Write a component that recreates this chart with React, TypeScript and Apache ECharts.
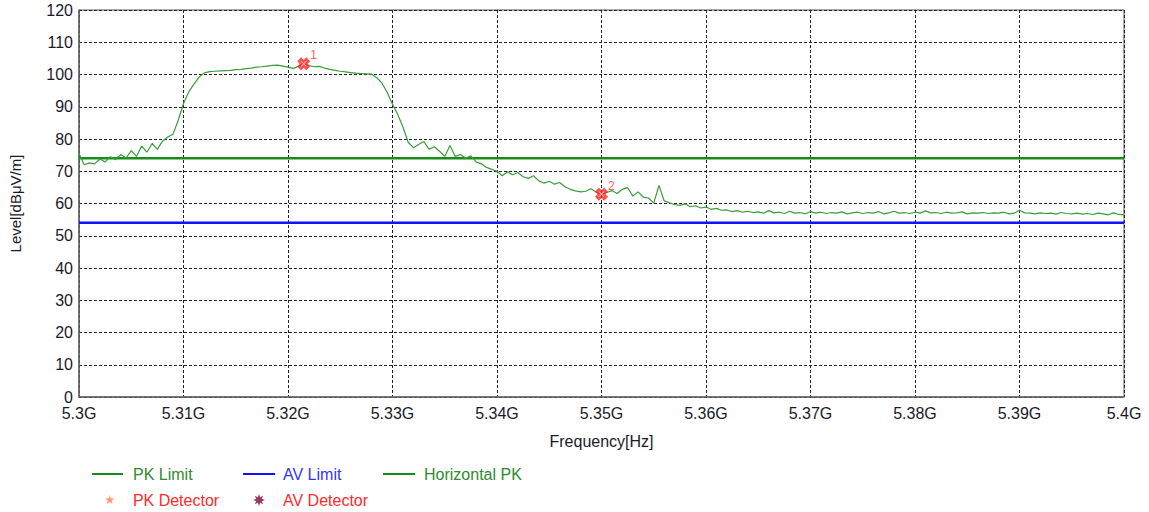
import { useEffect, useRef } from "react";
import * as echarts from "echarts";

// Sweep: 5300 MHz .. 5400 MHz, one reading every 0.5 MHz
const START_MHZ = 5300;
const STEP_MHZ = 0.5;

const traceLevels = [
  75.5, 72.0, 72.6, 72.3, 73.8, 72.9, 74.5, 73.6, 75.2, 74.1,
  76.4, 74.6, 77.8, 75.9, 78.6, 76.8, 79.4, 80.6, 81.5, 85.8,
  91.0, 94.6, 97.0, 99.2, 100.5, 100.9, 101.0, 101.1, 101.2, 101.3,
  101.5, 101.6, 101.8, 102.0, 102.3, 102.4, 102.6, 102.8, 102.9, 102.6,
  102.3, 101.9, 102.5, 103.3, 102.8, 102.4, 102.5, 102.0, 101.6, 101.3,
  101.0, 100.8, 100.6, 100.4, 100.3, 100.2, 100.1, 99.0, 97.3, 94.4,
  90.8, 87.6, 83.7, 79.0, 77.3, 78.3, 79.2, 76.8, 77.6, 76.2,
  74.6, 78.0, 74.6, 75.2, 74.0, 74.8, 72.9, 72.3, 71.2, 70.6,
  70.0, 68.6, 69.8, 68.9, 69.6, 68.3, 67.8, 68.6, 67.0, 66.3,
  66.9, 66.0, 66.5, 65.2, 64.4, 63.9, 63.6, 63.8, 64.6, 63.5,
  62.9, 63.4, 64.0, 63.1, 64.4, 64.9, 62.3, 63.6, 62.0, 61.7,
  60.1, 65.6, 60.8, 60.2, 59.7, 59.4, 59.9, 59.0, 59.3, 58.6,
  58.9, 58.2, 58.5, 57.9, 58.0, 57.5, 57.8, 57.3, 57.6, 57.2,
  57.4, 57.0, 57.8, 57.1, 57.3, 56.9, 57.6, 57.0, 57.2, 56.8,
  57.5, 57.0, 57.3, 56.9, 57.2, 57.0, 57.4, 56.8, 57.1, 57.3,
  56.9, 57.2, 57.0, 57.5, 56.8, 57.1, 57.6, 57.0, 57.2, 56.9,
  57.3, 57.0, 57.7, 57.1, 57.2, 56.9, 57.3, 57.0, 57.1, 57.4,
  56.8, 57.1, 57.0, 57.2, 56.9, 57.1, 57.0, 57.3, 56.8, 57.0,
  57.9, 57.1, 57.0, 56.8, 57.1, 56.9, 57.0, 56.7, 57.2, 56.9,
  56.8, 57.0, 56.7, 56.9, 56.6, 57.0, 56.8, 56.5, 57.1, 56.6,
  56.5,
];

const xTickLabels = [
  "5.3G", "5.31G", "5.32G", "5.33G", "5.34G", "5.35G",
  "5.36G", "5.37G", "5.38G", "5.39G", "5.4G",
];

const pkLimitLevel = 74;
const avLimitLevel = 54;

const markerNames = ["1", "2"];
const markerFreqs = [5321.5, 5350.0];
const markerLevels = [103.3, 62.9];

const FONT = 'Arial, "Liberation Sans", sans-serif';
const FS = 16;

const STAR_ICON =
  "path://M5,0L6.18,3.38L9.76,3.45L6.9,5.62L7.94,9.05L5,7L2.06,9.05L3.1,5.62L0.24,3.45L3.82,3.38ZM22.95,0L23,0L23,10L22.95,10Z";
const BURST_ICON =
  "path://M12,6L8.77,7.15L10.24,10.24L7.15,8.77L6,12L4.85,8.77L1.76,10.24L3.23,7.15L0,6L3.23,4.85L1.76,1.76L4.85,3.23L6,0L7.15,3.23L10.24,1.76L8.77,4.85ZM24.95,0L25,0L25,12L24.95,12Z";
const lineIcon = (len: number, total: number) =>
  `path://M0,0H${len}V2H0ZM${total - 0.05},0H${total}V2H${total - 0.05}Z`;

const X_MARK = "path://M0,3L3,0L5,2L7,0L10,3L8,5L10,7L7,10L5,8L3,10L0,7L2,5Z";
const X_INNER = "path://M1,0L5,4L9,0L10,1L6,5L10,9L9,10L5,6L1,10L0,9L4,5L0,1Z";

function legendEntry(
  name: string,
  left: number,
  top: number,
  icon: string,
  w: number,
  h: number,
  textColor: string
) {
  return {
    left,
    top,
    orient: "horizontal",
    padding: 0,
    itemWidth: w,
    itemHeight: h,
    selectedMode: false,
    textStyle: { color: textColor, fontSize: FS, fontFamily: FONT },
    data: [{ name, icon, itemStyle: { borderWidth: 0 } }],
  };
}

export default function App() {
  const ref = useRef<HTMLDivElement>(null);

  useEffect(() => {
    if (!ref.current) return;
    const chart = echarts.init(ref.current, undefined, { renderer: "svg" });

    const trace = traceLevels.map((v, i) => [START_MHZ + i * STEP_MHZ, v]);
    const markers = markerFreqs.map((f, i) => ({
      name: markerNames[i],
      value: [f, markerLevels[i]],
    }));

    chart.setOption({
      animation: false,
      backgroundColor: "#ffffff",
      textStyle: { fontFamily: FONT },
      grid: {
        left: 78,
        right: 25,
        top: 10,
        bottom: 115,
        show: true,
        borderColor: "#555",
        borderWidth: 1,
      },
      xAxis: {
        type: "value",
        min: 5300,
        max: 5400,
        interval: 10,
        name: "Frequency[Hz]",
        nameLocation: "middle",
        nameGap: 36,
        nameTextStyle: { color: "#1a1a2a", fontSize: FS, fontFamily: FONT },
        axisLine: { show: true, lineStyle: { color: "#666", width: 1.5 } },
        axisTick: { show: false },
        axisLabel: {
          color: "#1a1a2a",
          fontSize: FS,
          margin: 8,
          fontFamily: FONT,
          formatter: (v: number) => xTickLabels[Math.round((v - 5300) / 10)],
        },
        splitLine: { show: true, lineStyle: { color: "#222", type: [3, 2], width: 1 } },
      },
      yAxis: {
        type: "value",
        min: 0,
        max: 120,
        interval: 10,
        name: "Level[dBμV/m]",
        nameLocation: "middle",
        nameGap: 56,
        nameRotate: 90,
        nameTextStyle: { color: "#1a1a2a", fontSize: 15, fontFamily: FONT },
        axisLine: { show: true, lineStyle: { color: "#666", width: 1.5 } },
        axisTick: { show: false },
        axisLabel: { color: "#1a1a2a", fontSize: FS, margin: 6, fontFamily: FONT },
        splitLine: { show: true, lineStyle: { color: "#222", type: [3, 2], width: 1 } },
      },
      legend: [
        legendEntry("PK Limit", 92, 466, lineIcon(31, 36), 36, 2, "#2e8b2e"),
        legendEntry("AV Limit", 243, 466, lineIcon(32, 35), 35, 2, "#3333ff"),
        legendEntry("Horizontal PK", 383, 466, lineIcon(32, 36), 36, 2, "#2e8b2e"),
        legendEntry("PK Detector", 105, 492, STAR_ICON, 23, 10, "#ff2a2a"),
        legendEntry("AV Detector", 253, 492, BURST_ICON, 25, 12, "#ff2a2a"),
      ],
      series: [
        {
          name: "PK Limit",
          type: "line",
          data: [[5300, pkLimitLevel], [5400, pkLimitLevel]],
          symbol: "none",
          itemStyle: { color: "#1a8c1a" },
          lineStyle: { color: "#1a8c1a", width: 2.5 },
          z: 2,
        },
        {
          name: "AV Limit",
          type: "line",
          data: [[5300, avLimitLevel], [5400, avLimitLevel]],
          symbol: "none",
          itemStyle: { color: "#1010ff" },
          lineStyle: { color: "#1010ff", width: 2.5 },
          z: 2,
        },
        {
          name: "Horizontal PK",
          type: "line",
          data: trace,
          symbol: "none",
          itemStyle: { color: "#1a8c1a" },
          lineStyle: { color: "#3a9d3a", width: 1.2 },
          z: 3,
        },
        {
          name: "PK Detector",
          type: "scatter",
          data: [],
          itemStyle: { color: "#ff8040" },
        },
        {
          name: "AV Detector",
          type: "scatter",
          data: [],
          itemStyle: { color: "#7a0a3a" },
        },
        {
          name: "Markers",
          type: "scatter",
          data: markers,
          symbol: X_MARK,
          symbolSize: 13,
          itemStyle: { color: "#ff2020" },
          label: {
            show: true,
            position: [13, -8],
            formatter: (p: any) => p.name,
            color: "#ff3030",
            fontSize: 12,
            fontFamily: FONT,
          },
          z: 5,
        },
        {
          name: "MarkerCore",
          type: "scatter",
          data: markers,
          symbol: X_INNER,
          symbolSize: 6,
          itemStyle: { color: "#ffe0e0" },
          silent: true,
          z: 6,
        },
      ],
    });

    return () => chart.dispose();
  }, []);

  return (
    <div
      ref={ref}
      style={{ position: "fixed", left: 0, top: 0, width: 1149, height: 512 }}
    />
  );
}
